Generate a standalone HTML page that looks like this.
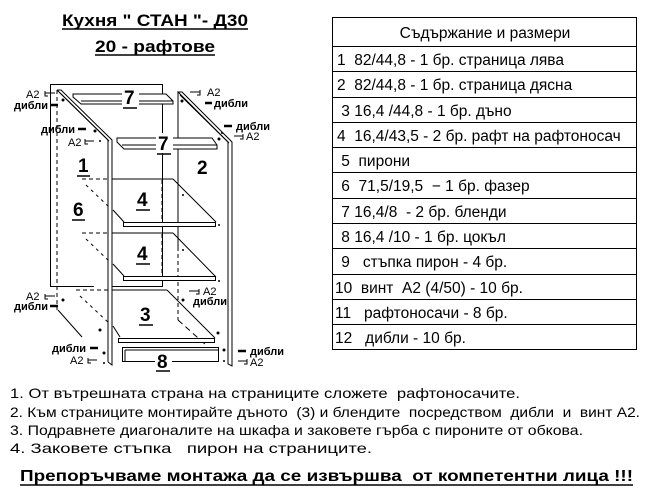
<!DOCTYPE html>
<html><head><meta charset="utf-8"><style>
html,body{margin:0;padding:0;background:#fff;}
svg{display:block;}
text{font-family:"Liberation Sans",sans-serif;fill:#000;white-space:pre;}
.b{font-weight:bold;}
.sm{font-size:11px;}
.n{font-size:19px;font-weight:bold;}
</style></head><body>
<svg width="654" height="497" viewBox="0 0 654 497" xmlns="http://www.w3.org/2000/svg" xml:space="preserve">
<text x="62" y="26" font-size="17" class="b" textLength="186" lengthAdjust="spacingAndGlyphs">Кухня " СТАН "- Д30</text>
<line x1="62" y1="29" x2="248" y2="29" stroke="#000" stroke-width="1.5"/>
<text x="95" y="52" font-size="17" class="b" textLength="120" lengthAdjust="spacingAndGlyphs">20 - рафтове</text>
<line x1="95" y1="55" x2="215" y2="55" stroke="#000" stroke-width="1.5"/>

<g fill="none" stroke="#000" stroke-width="1">
<rect x="50.5" y="84.5" width="112" height="202"/>
<path d="M57 90 L108 140 L108 362 M57 90 L61 90 L112 140 L112 365 L108 362" fill="#fff"/>
<line x1="60" y1="93" x2="109" y2="141"/>
<line x1="57" y1="90" x2="57" y2="310" stroke-dasharray="4,3"/>
<line x1="58" y1="310" x2="82" y2="337"/>
<path d="M178 92 L178 247 M178 92 L182 92 L232 142 L232 366 L228 364 L228 142 Z" fill="#fff"/>
<line x1="180" y1="95" x2="229" y2="143"/>
<line x1="178" y1="247" x2="178" y2="320" stroke-dasharray="4,3"/>
<line x1="178" y1="320" x2="206" y2="345" stroke-dasharray="6,4"/>
<path d="M73 94 L166 94 L173 101 L173 104 L81 104 L73 97 Z M81 101 L173 101" fill="#fff"/>
<path d="M117 138 L212 138 L217 145 L217 149 L124 149 L117 142 Z M122 145 L217 145" fill="#fff"/>
<g>
<line x1="82" y1="179" x2="108" y2="179" stroke-dasharray="4,3"/>
<line x1="112" y1="179" x2="173" y2="179"/>
<line x1="162" y1="180" x2="162" y2="222" stroke-dasharray="4,3"/>
<line x1="173" y1="179" x2="216" y2="222"/>
<line x1="86" y1="185" x2="110" y2="208" stroke-dasharray="3,4"/>
<line x1="113" y1="210" x2="124" y2="222"/>
<rect x="123.5" y="222.5" width="92" height="4" fill="#fff"/>
</g>
<g>
<line x1="82" y1="233" x2="108" y2="233" stroke-dasharray="4,3"/>
<line x1="112" y1="233" x2="173" y2="233"/>
<line x1="162" y1="234" x2="162" y2="277" stroke-dasharray="4,3"/>
<line x1="173" y1="233" x2="216" y2="277"/>
<line x1="86" y1="239" x2="110" y2="262" stroke-dasharray="3,4"/>
<line x1="113" y1="264" x2="124" y2="276"/>
<rect x="123.5" y="276.5" width="92" height="4" fill="#fff"/>
</g>
<line x1="76" y1="290" x2="108" y2="290" stroke-dasharray="4,3"/>
<line x1="112" y1="290" x2="167" y2="290"/>
<line x1="167" y1="290" x2="215" y2="338"/>
<line x1="80" y1="296" x2="110" y2="324" stroke-dasharray="3,4"/>
<line x1="113" y1="326" x2="120" y2="337"/>
<rect x="118.5" y="338.5" width="96" height="4" fill="#fff"/>
<rect x="122.5" y="347.5" width="96" height="14" fill="#fff"/>
<line x1="125" y1="350" x2="125" y2="362"/>
<line x1="125" y1="350" x2="218" y2="350"/>
</g>

<g>
<rect x="122" y="88" width="17" height="20" fill="#fff"/>
<text x="124" y="104" class="n">7</text><line x1="123" y1="108" x2="137" y2="108" stroke="#000" stroke-width="1.5"/>
<rect x="156" y="133" width="17" height="20" fill="#fff"/>
<text x="158" y="150" class="n">7</text><line x1="157" y1="154" x2="171" y2="154" stroke="#000" stroke-width="1.5"/>
<text x="78" y="172" class="n">1</text><line x1="77" y1="176" x2="90" y2="176" stroke="#000" stroke-width="1.5"/>
<text x="197" y="174" class="n">2</text>
<text x="73" y="216" class="n">6</text><line x1="72" y1="220" x2="85" y2="220" stroke="#000" stroke-width="1.5"/>
<text x="137" y="206" class="n">4</text><line x1="136" y1="210" x2="150" y2="210" stroke="#000" stroke-width="1.5"/>
<text x="137" y="260" class="n">4</text><line x1="136" y1="264" x2="150" y2="264" stroke="#000" stroke-width="1.5"/>
<text x="140" y="321" class="n">3</text><line x1="139" y1="325" x2="153" y2="325" stroke="#000" stroke-width="1.5"/>
<rect x="155" y="352" width="17" height="18" fill="#fff"/>
<text x="157" y="368" class="n">8</text><line x1="156" y1="371" x2="170" y2="371" stroke="#000" stroke-width="1.5"/>
</g>

<g class="sm">
<text x="26" y="98">A2</text><path d="M45 93 h10 M45 91 v5 h3" stroke="#000" fill="none"/>
<text x="14" y="109" class="b">дибли</text><line x1="51" y1="105" x2="58" y2="105" stroke="#000" stroke-width="2.5"/>
<text x="41" y="133" class="b">дибли</text><line x1="78" y1="129" x2="86" y2="129" stroke="#000" stroke-width="2.5"/>
<text x="68" y="146">A2</text><path d="M85 141 h9 M85 139 v5 h3" stroke="#000" fill="none"/>
<path d="M190 92 h10 M200 90 v5 h-3" stroke="#000" fill="none"/><text x="207" y="96">A2</text>
<line x1="205" y1="103" x2="212" y2="103" stroke="#000" stroke-width="2.5"/><text x="214" y="107" class="b">дибли</text>
<line x1="224" y1="126" x2="232" y2="126" stroke="#000" stroke-width="2.5"/><text x="236" y="130" class="b">дибли</text>
<path d="M234 136 h9 M243 134 v5 h-3" stroke="#000" fill="none"/><text x="246" y="140">A2</text>
<text x="26" y="300">A2</text><path d="M45 296 h10 M45 294 v5 h3" stroke="#000" fill="none"/>
<text x="14" y="310" class="b">дибли</text><line x1="50" y1="306" x2="58" y2="306" stroke="#000" stroke-width="2.5"/>
<text x="52" y="352" class="b">дибли</text><line x1="90" y1="348" x2="98" y2="348" stroke="#000" stroke-width="2.5"/>
<text x="70" y="364">A2</text><path d="M88 360 h9 M88 358 v5 h3" stroke="#000" fill="none"/>
<path d="M189 291 h10 M199 289 v5 h-3" stroke="#000" fill="none"/><text x="203" y="295">A2</text>
<text x="193" y="305" class="b">дибли</text>
<line x1="238" y1="351" x2="246" y2="351" stroke="#000" stroke-width="2.5"/><text x="250" y="355" class="b">дибли</text>
<path d="M238 361 h9 M247 359 v5 h-3" stroke="#000" fill="none"/><text x="250" y="366">A2</text>
</g>
<g fill="#000">
<circle cx="63" cy="100" r="1.5"/><circle cx="95" cy="131" r="1.5"/><circle cx="100" cy="141" r="1"/>
<circle cx="182" cy="101" r="1.5"/><circle cx="219" cy="139" r="1.5"/><circle cx="222" cy="133" r="1"/>
<circle cx="63" cy="300" r="1.5"/><circle cx="100" cy="330" r="1.5"/><circle cx="104" cy="353" r="1.5"/><circle cx="104" cy="363" r="1"/>
<circle cx="183" cy="300" r="1.5"/><circle cx="218" cy="333" r="1.5"/><circle cx="224" cy="350" r="1.5"/><circle cx="224" cy="361" r="1"/>
<circle cx="183" cy="195" r="1"/><circle cx="219" cy="225" r="1"/><circle cx="183" cy="250" r="1"/><circle cx="219" cy="281" r="1"/>
</g>

<g fill="none" stroke="#000" stroke-width="1">
<rect x="332.5" y="17.5" width="304" height="332"/>
<line x1="332" y1="46.5" x2="637" y2="46.5"/>
<line x1="332" y1="71.5" x2="637" y2="71.5"/>
<line x1="332" y1="97.5" x2="637" y2="97.5"/>
<line x1="332" y1="122.5" x2="637" y2="122.5"/>
<line x1="332" y1="147.5" x2="637" y2="147.5"/>
<line x1="332" y1="172.5" x2="637" y2="172.5"/>
<line x1="332" y1="198.5" x2="637" y2="198.5"/>
<line x1="332" y1="223.5" x2="637" y2="223.5"/>
<line x1="332" y1="248.5" x2="637" y2="248.5"/>
<line x1="332" y1="274.5" x2="637" y2="274.5"/>
<line x1="332" y1="299.5" x2="637" y2="299.5"/>
<line x1="332" y1="324.5" x2="637" y2="324.5"/>
</g>
<g font-size="15.5">
<text x="485" y="38" text-anchor="middle">Съдържание и размери</text>
<text x="337" y="65">1  82/44,8 - 1 бр. страница лява</text>
<text x="337" y="90">2  82/44,8 - 1 бр. страница дясна</text>
<text x="337" y="116"> 3 16,4 /44,8 - 1 бр. дъно</text>
<text x="337" y="141">4  16,4/43,5 - 2 бр. рафт на рафтоносач</text>
<text x="337" y="166"> 5  пирони</text>
<text x="337" y="191"> 6  71,5/19,5  − 1 бр. фазер</text>
<text x="337" y="217"> 7 16,4/8  - 2 бр. бленди</text>
<text x="337" y="242"> 8 16,4 /10 - 1 бр. цокъл</text>
<text x="337" y="267"> 9   стъпка пирон - 4 бр.</text>
<text x="335" y="293">10  винт  А2 (4/50) - 10 бр.</text>
<text x="335" y="318">11   рафтоносачи - 8 бр.</text>
<text x="335" y="343">12   дибли - 10 бр.</text>
</g>

<g font-size="14">
<text x="10" y="398" textLength="510" lengthAdjust="spacingAndGlyphs">1. От вътрешната страна на страниците сложете  рафтоносачите.</text>
<text x="10" y="417" textLength="630" lengthAdjust="spacingAndGlyphs">2. Към страниците монтирайте дъното  (3) и блендите  посредством  дибли  и  винт А2.</text>
<text x="10" y="435" textLength="573" lengthAdjust="spacingAndGlyphs">3. Подравнете диагоналите на шкафа и заковете гърба с пироните от обкова.</text>
<text x="10" y="453" textLength="362" lengthAdjust="spacingAndGlyphs">4. Заковете стъпка   пирон на страниците.</text>
</g>
<text x="20" y="481" font-size="16" class="b" textLength="613" lengthAdjust="spacingAndGlyphs">Препоръчваме монтажа да се извършва  от компетентни лица !!!</text>
<line x1="20" y1="485" x2="633" y2="485" stroke="#000" stroke-width="1.5"/>
</svg>
</body></html>
